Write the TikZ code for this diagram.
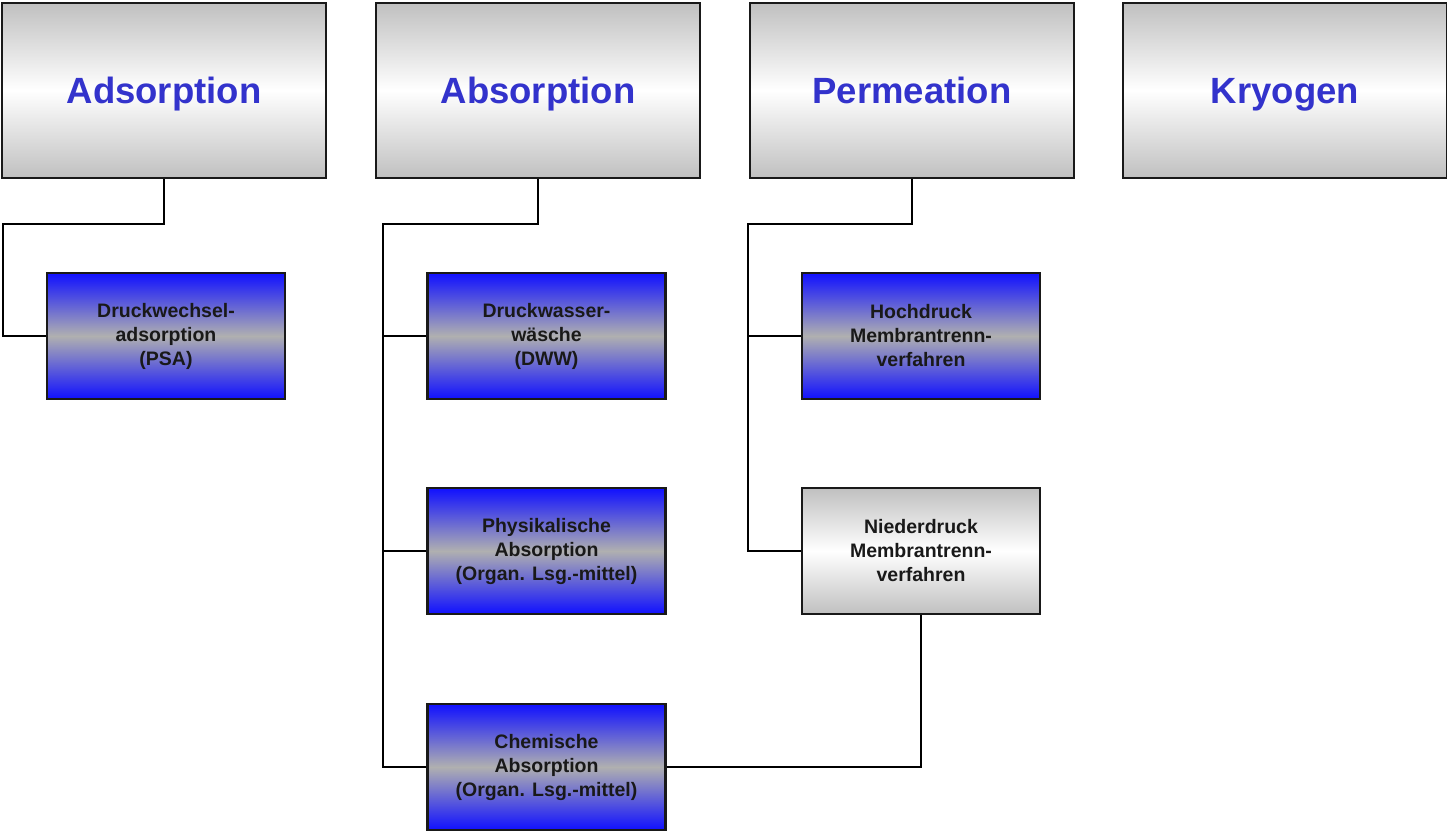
\documentclass[tikz,border=0pt]{standalone}
\usepackage{fontspec}
\setmainfont{Liberation Sans}
\usepackage{tikz}

\definecolor{headgray}{RGB}{192,192,192}
\definecolor{headblue}{RGB}{51,51,204}
\definecolor{procblue}{RGB}{16,16,255}
\definecolor{procgray}{RGB}{176,176,176}

\begin{document}
\begin{tikzpicture}[x=1pt, y=1pt,
  head/.style={draw=black!90, line width=2.2pt, minimum width=324pt, minimum height=175pt,
    top color=headgray, bottom color=headgray, middle color=white, text=headblue,
    text height=34pt, text depth=8pt,
    font=\bfseries\fontsize{36.5}{43}\selectfont},
  proc/.style={draw=black!90, line width=2.2pt, minimum width=238pt, minimum height=126pt,
    top color=procblue, bottom color=procblue, middle color=procgray, text=black!90,
    align=center, font=\bfseries\fontsize{19.5}{24}\selectfont},
  lowproc/.style={proc, top color=headgray, bottom color=headgray, middle color=white},
  link/.style={draw=black, line width=2.2pt}]
\useasboundingbox (0,0) rectangle (1447,-831);

\path 
(164,-90.5) node[head] (adsorption) {Adsorption}
(538,-90.5) node[head] (absorption) {Absorption}
(912,-90.5) node[head] (permeation) {Permeation}
(1285,-90.5) node[head] (kryogen) {Kryogen}
(166,-336) node[proc] (psa) {Druckwechsel-\\adsorption\\(PSA)}
(546.5,-336) node[proc] (dww) {Druckwasser-\\wäsche\\(DWW)}
(546.5,-551) node[proc] (phys) {Physikalische\\Absorption\\(Organ. Lsg.-mittel)}
(546.5,-767) node[proc] (chem) {Chemische\\Absorption\\(Organ. Lsg.-mittel)}
(921,-336) node[proc] (hoch) {Hochdruck\\Membrantrenn-\\verfahren}
(921,-551) node[lowproc] (nieder) {Niederdruck\\Membrantrenn-\\verfahren};

\coordinate (ads-bus) at (3,-224);
\coordinate (abs-bus) at (383,-224);
\coordinate (perm-bus) at (748,-224);

\draw[link] (adsorption.south) |- (ads-bus) |- (psa.west);
\draw[link] (absorption.south) |- (abs-bus) |- (chem.west);
\draw[link] (abs-bus |- dww.west) -- (dww.west);
\draw[link] (abs-bus |- phys.west) -- (phys.west);
\draw[link] (permeation.south) |- (perm-bus) |- (nieder.west);
\draw[link] (perm-bus |- hoch.west) -- (hoch.west);
\draw[link] (chem.east) -| (nieder.south);
\end{tikzpicture}
\end{document}
